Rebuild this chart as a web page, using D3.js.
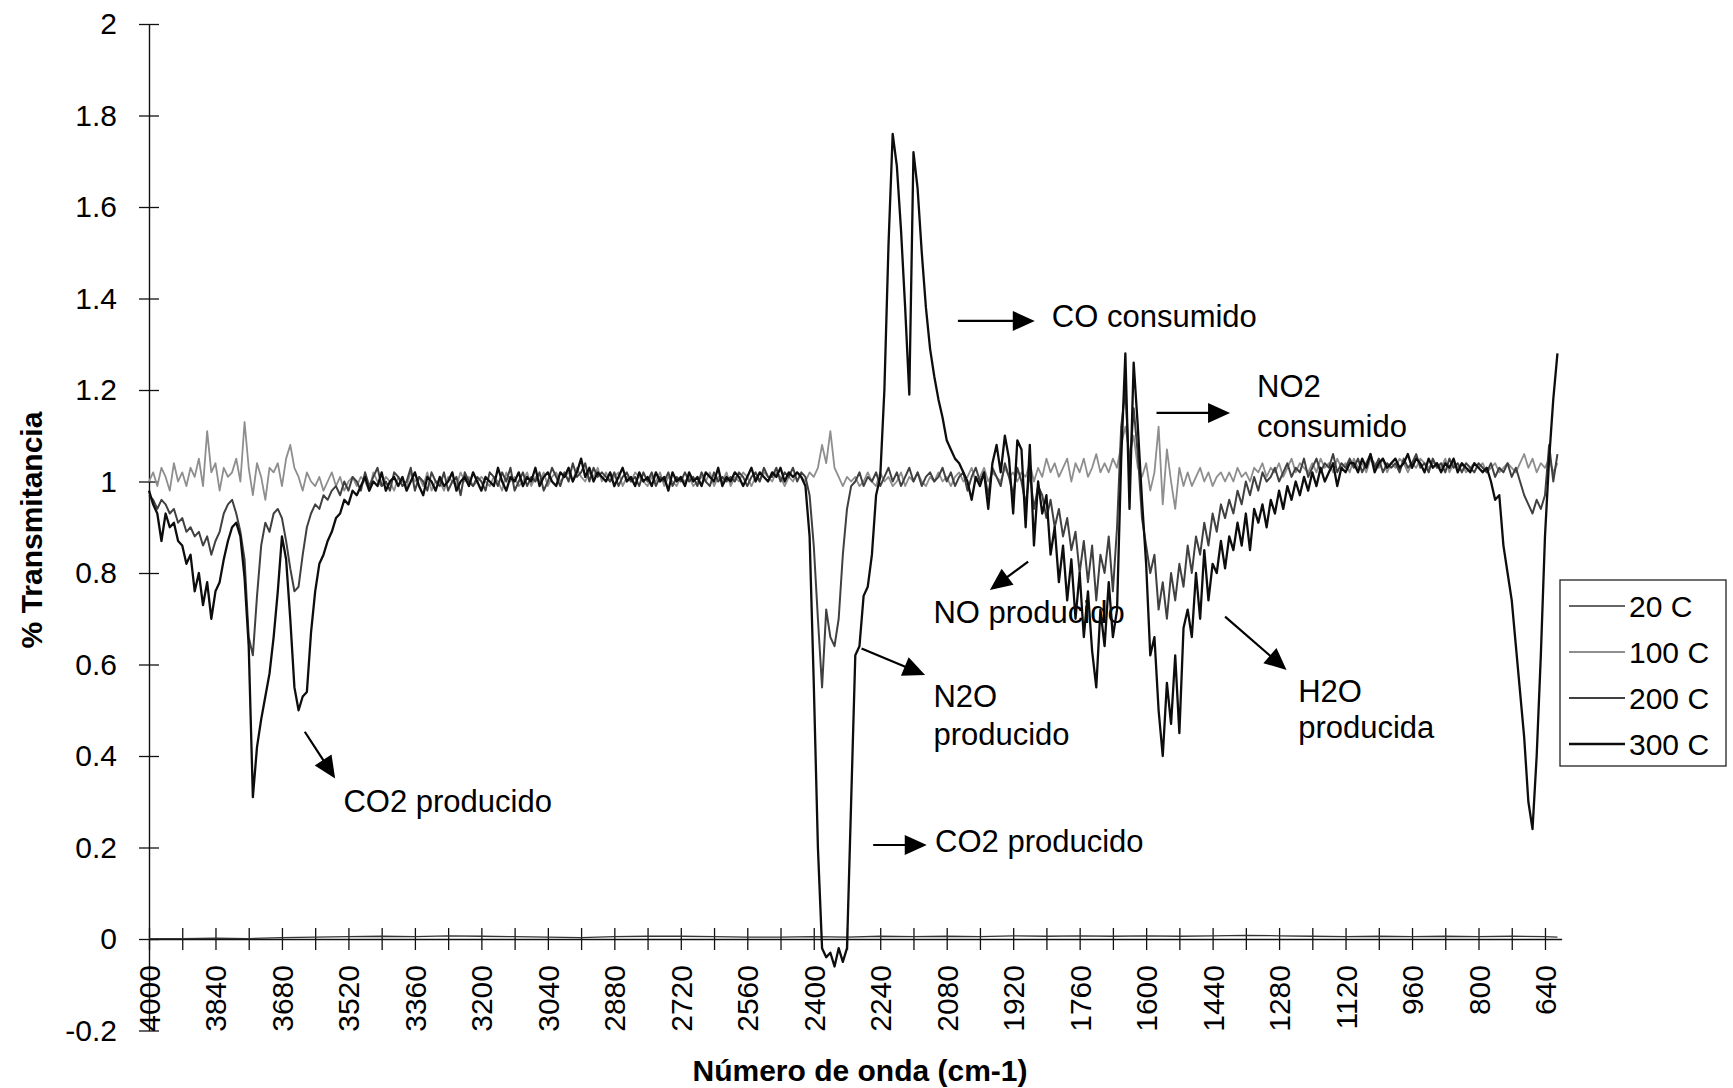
<!DOCTYPE html>
<html><head><meta charset="utf-8">
<script src="https://cdn.jsdelivr.net/npm/d3@7"></script>
<style>
body{margin:0;background:#fff}
svg{display:block;background:#fff}
text{font-family:"Liberation Sans",Arial,sans-serif}
</style>
</head><body>
<svg id="chart" width="1733" height="1088"></svg>
<script>
// ---------------- DATA ----------------
// spectra sampled every 10 cm-1 from 4000 to 610 cm-1
const waveNumbers = d3.range(4000, 605, -10);
const seriesNames = ["20 C", "100 C", "200 C", "300 C"];

const s300 = [
 0.98,0.95,0.93,0.87,0.93,0.90,0.91,0.87,0.86,0.82,
 0.84,0.76,0.80,0.73,0.78,0.70,0.76,0.78,0.83,0.87,
 0.90,0.91,0.88,0.79,0.64,0.31,0.42,0.48,0.53,0.58,
 0.66,0.76,0.88,0.83,0.70,0.55,0.50,0.53,0.54,0.67,
 0.76,0.82,0.84,0.87,0.89,0.92,0.93,0.96,0.95,0.98,
 0.97,0.99,1.01,0.98,1.00,0.99,1.02,0.98,1.00,1.01,
 0.99,1.01,0.98,1.00,1.02,0.99,0.97,1.01,1.00,0.98,
 1.01,0.99,1.00,1.02,0.98,1.00,1.01,0.99,1.02,1.00,
 0.98,1.01,1.00,0.99,1.03,1.00,0.98,1.01,1.00,1.02,
 0.99,1.01,1.00,1.03,0.99,1.01,1.02,1.00,0.99,1.02,
 1.01,1.03,1.00,1.02,1.05,1.01,1.03,1.00,1.02,1.01,
 1.00,1.02,0.99,1.01,1.03,1.00,1.01,0.99,1.02,1.00,
 1.01,0.99,1.02,1.00,1.01,0.98,1.02,1.00,1.01,0.99,
 1.02,1.00,1.01,0.99,1.02,1.01,1.00,1.03,0.99,1.01,
 1.00,1.02,1.01,0.99,1.01,1.03,1.00,1.02,1.01,1.00,
 1.02,1.01,1.03,1.00,1.02,1.01,1.02,1.01,0.99,0.88,
 0.56,0.20,-0.02,-0.04,-0.03,-0.06,-0.02,-0.05,-0.02,0.30,
 0.62,0.64,0.75,0.77,0.84,0.97,1.01,1.20,1.52,1.76,
 1.69,1.55,1.38,1.19,1.72,1.64,1.50,1.38,1.29,1.23,
 1.18,1.14,1.09,1.07,1.05,1.04,1.02,1.00,0.96,1.01,
 0.99,1.02,0.94,1.04,1.08,1.02,1.10,1.05,0.93,1.09,
 1.07,0.90,1.08,0.86,1.00,0.93,0.97,0.84,0.90,0.78,
 0.86,0.74,0.83,0.70,0.80,0.66,0.76,0.63,0.55,0.72,
 0.64,0.78,0.66,0.72,1.05,1.28,0.94,1.26,1.12,0.96,
 0.82,0.62,0.66,0.50,0.40,0.56,0.47,0.62,0.45,0.68,
 0.72,0.66,0.80,0.70,0.85,0.74,0.82,0.80,0.87,0.81,
 0.88,0.85,0.91,0.86,0.93,0.85,0.94,0.91,0.95,0.90,
 0.96,0.93,0.98,0.94,0.99,0.96,1.00,0.97,1.01,0.98,
 1.02,0.99,1.03,1.00,1.02,1.04,0.99,1.03,1.02,1.04,
 1.04,1.02,1.05,1.03,1.06,1.02,1.04,1.05,1.03,1.04,
 1.05,1.03,1.04,1.06,1.03,1.05,1.04,1.02,1.05,1.03,
 1.04,1.02,1.04,1.03,1.05,1.02,1.04,1.03,1.02,1.04,
 1.03,1.02,1.03,1.00,0.96,0.97,0.86,0.80,0.74,0.64,
 0.54,0.44,0.30,0.24,0.40,0.62,0.88,1.05,1.18,1.28
];

const s200 = [
 0.97,0.96,0.94,0.96,0.95,0.93,0.94,0.91,0.92,0.89,
 0.90,0.88,0.89,0.86,0.88,0.84,0.87,0.89,0.93,0.95,
 0.96,0.93,0.89,0.83,0.66,0.62,0.75,0.86,0.91,0.89,
 0.93,0.94,0.92,0.87,0.81,0.76,0.77,0.84,0.90,0.93,
 0.95,0.94,0.97,0.96,0.98,0.99,0.97,1.00,0.98,1.01,
 1.00,0.98,1.02,0.99,1.01,1.03,0.99,1.00,0.98,1.02,
 1.01,0.99,1.00,1.03,0.98,1.01,1.00,0.98,1.02,1.00,
 0.99,1.02,0.98,1.00,1.01,0.97,1.02,1.00,0.99,1.01,
 1.00,0.98,1.02,1.01,0.99,1.02,1.00,1.03,0.98,1.00,
 1.02,0.99,1.01,1.00,1.02,0.98,1.00,1.03,1.01,0.99,
 1.02,1.00,1.04,1.01,1.02,1.04,1.00,1.03,1.01,1.02,
 1.01,1.00,1.02,0.99,1.01,1.02,1.00,1.01,0.99,1.02,
 1.00,1.02,0.99,1.01,1.00,1.02,0.99,1.01,1.00,1.02,
 1.00,1.01,0.99,1.02,1.00,0.99,1.02,1.00,1.01,1.00,
 1.01,1.00,1.02,1.01,0.99,1.01,1.02,1.00,1.03,1.01,
 1.01,1.03,1.00,1.02,1.01,1.03,1.00,1.02,1.01,0.97,
 0.86,0.70,0.55,0.72,0.66,0.64,0.70,0.84,0.94,0.99,
 1.00,1.02,0.99,1.01,1.00,1.02,0.99,1.01,1.03,1.00,
 1.02,0.99,1.01,1.03,1.00,1.02,0.99,1.01,1.02,1.00,
 1.01,1.03,1.00,1.02,0.99,1.01,1.02,0.98,1.01,1.03,
 1.00,1.02,0.97,1.03,1.01,0.99,1.04,1.01,0.97,1.03,
 1.00,0.95,1.02,0.94,0.99,0.97,0.92,0.96,0.90,0.94,
 0.88,0.92,0.85,0.89,0.80,0.87,0.78,0.86,0.74,0.84,
 0.80,0.88,0.76,0.90,1.12,1.20,1.02,1.16,1.06,0.92,
 0.86,0.80,0.84,0.72,0.78,0.70,0.80,0.74,0.82,0.77,
 0.86,0.80,0.88,0.84,0.91,0.86,0.93,0.89,0.95,0.92,
 0.96,0.93,0.98,0.95,1.00,0.97,1.01,0.98,1.02,1.00,
 1.01,1.03,1.00,1.02,1.04,1.01,1.03,1.02,1.05,1.01,
 1.03,1.05,1.02,1.04,1.03,1.06,1.02,1.04,1.03,1.05,
 1.03,1.05,1.02,1.04,1.06,1.03,1.05,1.02,1.04,1.03,
 1.04,1.02,1.05,1.03,1.04,1.06,1.03,1.04,1.02,1.05,
 1.03,1.04,1.02,1.05,1.03,1.04,1.02,1.04,1.03,1.02,
 1.04,1.03,1.02,1.04,1.01,1.03,1.02,1.04,1.01,1.03,
 1.00,0.97,0.95,0.93,0.96,0.94,0.97,1.08,1.00,1.06
];

const s100 = [
 1.00,1.02,0.99,1.03,1.01,0.98,1.04,1.00,1.02,0.99,
 1.03,1.01,1.05,0.99,1.11,1.02,1.04,0.98,1.03,1.01,
 1.02,1.05,1.00,1.13,1.03,0.97,1.04,1.01,0.96,1.03,
 1.02,1.04,0.99,1.05,1.08,1.03,1.01,0.98,1.02,1.00,
 0.99,1.01,0.98,1.00,1.02,0.99,1.01,0.98,1.00,1.01,
 0.99,1.01,1.00,0.98,1.02,1.00,0.99,1.01,1.00,0.98,
 1.01,1.00,0.99,1.02,1.00,1.01,0.99,1.02,0.98,1.00,
 1.00,0.98,1.01,1.00,0.99,1.02,1.00,1.01,0.99,1.00,
 1.01,1.00,0.99,1.01,1.00,0.98,1.02,1.00,1.01,0.99,
 1.00,1.02,0.99,1.01,1.00,1.02,0.99,1.01,1.02,1.00,
 1.01,1.02,1.00,1.03,1.01,1.00,1.02,1.01,1.03,1.00,
 1.02,1.00,1.01,1.02,0.99,1.01,1.00,1.02,1.01,1.00,
 0.99,1.01,1.00,1.02,0.99,1.01,1.00,0.99,1.01,1.00,
 1.01,0.99,1.00,1.01,1.00,1.02,0.99,1.01,1.00,1.02,
 0.99,1.01,1.00,1.02,1.01,0.99,1.01,1.00,1.02,1.01,
 1.00,1.02,1.01,0.99,1.01,1.00,1.02,1.01,1.00,1.02,
 1.01,1.03,1.08,1.04,1.11,1.03,1.01,0.99,1.01,1.00,
 1.01,0.99,1.00,1.02,1.00,0.99,1.02,1.00,1.01,0.99,
 1.00,1.02,0.99,1.01,1.00,1.02,1.00,0.99,1.01,1.00,
 1.02,1.00,1.01,0.99,1.01,1.02,1.00,1.01,1.03,1.00,
 1.01,1.03,1.00,1.02,1.01,1.00,1.03,1.01,1.02,1.00,
 1.02,1.01,1.04,1.00,1.03,1.01,1.05,1.02,1.04,1.01,
 1.03,1.05,1.00,1.04,1.02,1.05,1.01,1.03,1.06,1.02,
 1.04,1.02,1.05,1.03,1.08,1.12,1.06,1.10,1.03,1.01,
 1.04,0.98,1.02,1.12,0.95,1.07,1.00,0.94,1.03,0.99,
 1.02,0.99,1.01,1.03,1.00,1.02,0.99,1.01,1.02,1.00,
 1.02,1.00,1.03,1.01,1.02,1.00,1.03,1.02,1.04,1.01,
 1.03,1.02,1.04,1.01,1.03,1.05,1.02,1.04,1.03,1.02,
 1.04,1.02,1.05,1.03,1.04,1.02,1.05,1.03,1.04,1.02,
 1.05,1.03,1.04,1.02,1.05,1.04,1.03,1.05,1.02,1.04,
 1.03,1.05,1.04,1.02,1.04,1.03,1.05,1.04,1.03,1.04,
 1.04,1.03,1.05,1.02,1.04,1.03,1.04,1.02,1.03,1.04,
 1.03,1.04,1.02,1.03,1.04,1.02,1.03,1.04,1.03,1.02,
 1.04,1.06,1.03,1.05,1.02,1.04,1.03,1.05,1.02,1.04
];

// 20 C trace lies on the baseline (sparser sampling)
const waveNumbers20 = [4000,3920,3840,3760,3680,3600,3520,3440,3360,3280,3200,3120,3040,2960,2880,2800,2720,2640,2560,2480,2400,2320,2240,2160,2080,2000,1920,1840,1760,1680,1600,1520,1440,1360,1280,1200,1120,1040,960,880,800,720,640,610];
const s20 = [0.001,0.001,0.002,0.001,0.003,0.004,0.005,0.006,0.005,0.007,0.006,0.005,0.004,0.003,0.005,0.006,0.006,0.005,0.004,0.004,0.005,0.004,0.006,0.005,0.006,0.005,0.007,0.006,0.007,0.006,0.007,0.006,0.007,0.008,0.007,0.006,0.005,0.006,0.005,0.006,0.005,0.006,0.005,0.004];

const yTicks = [2,1.8,1.6,1.4,1.2,1,0.8,0.6,0.4,0.2,0,-0.2];
const xLabels = [4000,3840,3680,3520,3360,3200,3040,2880,2720,2560,2400,2240,2080,1920,1760,1600,1440,1280,1120,960,800,640];
const xTicks = d3.range(4000, 639, -80);

// annotations (text anchor in data units, arrows: [wnFrom, vFrom, wnTo, vTo])
const annoTexts = [["CO consumido"],["NO2","consumido"],["NO producido"],["N2O","producido"],["CO2 producido"],["H2O","producida"],["CO2 producido"]];
const annoTextWn = [1827,1333,2112,2112,2108,1234,3532];
const annoTextV = [[1.338],[1.185,1.098],[0.690],[0.508,0.424],[0.190],[0.519,0.439],[0.278]];
const annoArrows = [[2053,1.351,1868,1.351],[1575,1.150,1398,1.150],[1884,0.825,1976,0.763],[2285,0.635,2132,0.577],[2257,0.2055,2128,0.2055],[1410,0.7045,1262,0.588],[3625,0.453,3552,0.351]];

// ---------------- CHART ----------------
const FONT = '"Liberation Sans", Arial, sans-serif';
const svg = d3.select("#chart");
const x = d3.scaleLinear().domain([4000, 600]).range([149, 1561.6]);
const y = d3.scaleLinear().domain([-0.2, 2]).range([1030.5, 24]);

// axes
const gy = svg.append("g").attr("transform", `translate(${x(4000)},0)`)
  .call(d3.axisLeft(y).tickValues(yTicks).tickSize(10).tickSizeOuter(0).tickPadding(22).tickFormat(d => String(d)));
gy.attr("font-family", FONT).attr("font-size", 30);
gy.selectAll(".tick line").attr("x1", 10).attr("stroke", "#111").attr("stroke-width", 1.3);
gy.select(".domain").attr("stroke", "#111").attr("stroke-width", 1.4);
gy.selectAll(".tick text").attr("fill", "#000");

const gx = svg.append("g").attr("transform", `translate(0,${y(0)})`)
  .call(d3.axisBottom(x).tickValues(xTicks).tickSize(11).tickSizeOuter(0)
        .tickFormat(d => xLabels.includes(d) ? String(d) : ""));
gx.attr("font-family", FONT).attr("font-size", 30);
gx.selectAll(".tick line").attr("y1", -11).attr("stroke", "#111").attr("stroke-width", 1.3);
gx.select(".domain").attr("stroke", "#111").attr("stroke-width", 1.4);
gx.selectAll(".tick text").attr("transform", "rotate(-90)").attr("x", -26).attr("y", 0)
  .attr("dy", "0.35em").attr("text-anchor", "end").attr("fill", "#000");

// axis titles
svg.append("text").attr("x", 860).attr("y", 1081).attr("text-anchor", "middle")
  .attr("font-family", FONT).attr("font-size", 30).attr("font-weight", "bold")
  .text("Número de onda (cm-1)");
svg.append("text").attr("transform", "translate(42,530) rotate(-90)").attr("text-anchor", "middle")
  .attr("font-family", FONT).attr("font-size", 30).attr("font-weight", "bold")
  .text("% Transmitancia");

// annotations
const ga = svg.append("g");
annoTexts.forEach((lines, i) => {
  lines.forEach((t, j) => {
    ga.append("text").attr("x", x(annoTextWn[i])).attr("y", y(annoTextV[i][j]))
      .attr("font-family", FONT).attr("font-size", 31).attr("fill", "#000").text(t);
  });
  const [w1, v1, w2, v2] = annoArrows[i];
  const x1 = x(w1), y1 = y(v1), x2 = x(w2), y2 = y(v2);
  const dx = x2 - x1, dy = y2 - y1, len = Math.hypot(dx, dy);
  const ux = dx / len, uy = dy / len, L = 22, W = 10;
  ga.append("line").attr("x1", x1).attr("y1", y1).attr("x2", x2 - ux * L * 0.8).attr("y2", y2 - uy * L * 0.8)
    .attr("stroke", "#000").attr("stroke-width", 2.2);
  const bx = x2 - ux * L, by = y2 - uy * L;
  ga.append("path").attr("d", `M${x2},${y2}L${bx - uy * W},${by + ux * W}L${bx + uy * W},${by - ux * W}Z`)
    .attr("fill", "#000");
});

// series
const line = d3.line().x(d => x(d[0])).y(d => y(d[1]));
const series = [
  {name: seriesNames[0], pts: waveNumbers20.map((w, i) => [w, s20[i]]), color: "#333", width: 1.3},
  {name: seriesNames[1], pts: waveNumbers.map((w, i) => [w, s100[i]]), color: "#8e8e8e", width: 1.8},
  {name: seriesNames[2], pts: waveNumbers.map((w, i) => [w, s200[i]]), color: "#404040", width: 2.0},
  {name: seriesNames[3], pts: waveNumbers.map((w, i) => [w, s300[i]]), color: "#0d0d0d", width: 2.3}
];
[0, 1, 2, 3].forEach(k => {
  const s = series[k];
  svg.append("path").datum(s.pts).attr("d", line).attr("fill", "none")
    .attr("stroke", s.color).attr("stroke-width", s.width).attr("stroke-linejoin", "round");
});

// legend
const lg = svg.append("g");
lg.append("rect").attr("x", 1560).attr("y", 580).attr("width", 166).attr("height", 186)
  .attr("fill", "#fff").attr("stroke", "#222").attr("stroke-width", 1.3);
series.forEach((s, i) => {
  const cy = 606 + i * 46;
  lg.append("line").attr("x1", 1569).attr("x2", 1625).attr("y1", cy).attr("y2", cy)
    .attr("stroke", s.color).attr("stroke-width", s.width);
  lg.append("text").attr("x", 1629).attr("y", cy).attr("dy", "0.36em")
    .attr("font-family", FONT).attr("font-size", 30).attr("fill", "#000").text(s.name);
});
</script>
</body></html>
